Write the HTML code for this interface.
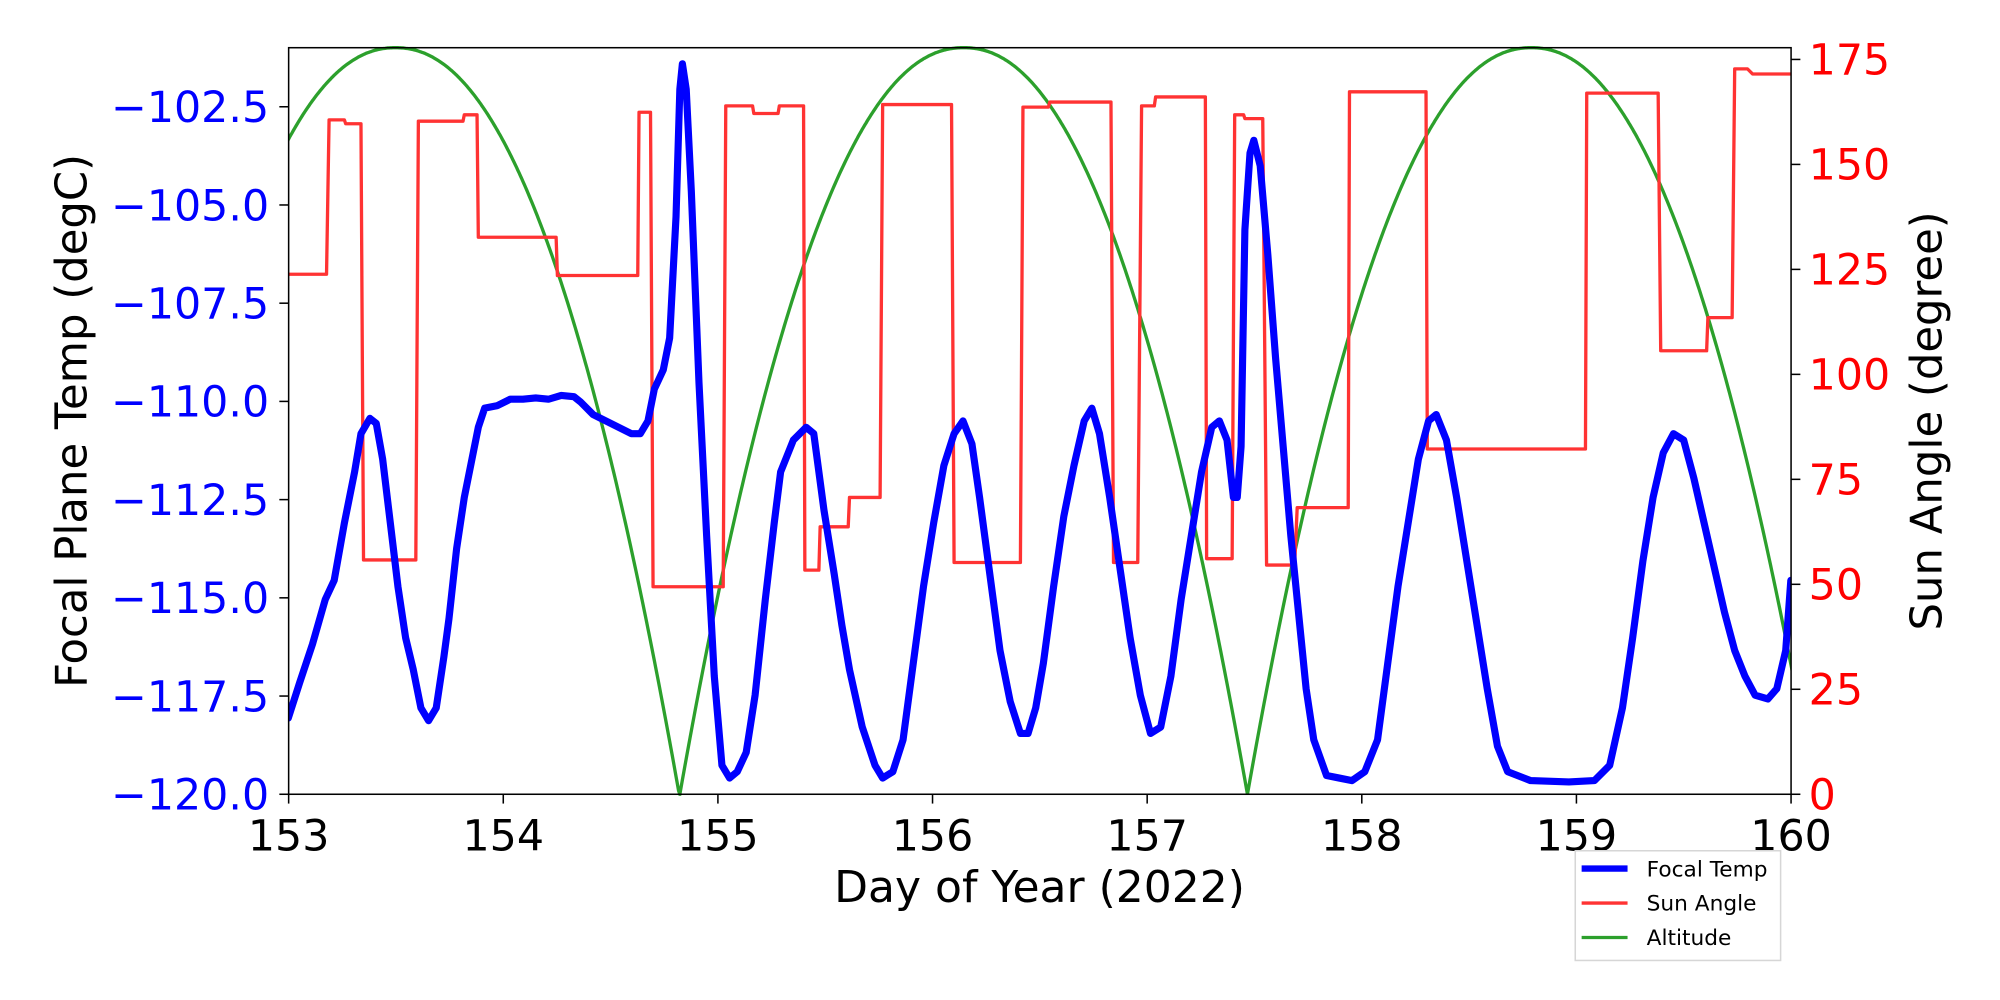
<!DOCTYPE html>
<html><head><meta charset="utf-8"><style>html,body{margin:0;padding:0;background:#fff}svg{display:block}text{font-family:"DejaVu Sans","Liberation Sans",sans-serif}</style></head>
<body>
<svg id="s" width="2000" height="1000" viewBox="0 0 1568 784" xmlns="http://www.w3.org/2000/svg">
<rect width="1568" height="784" fill="#fff"/>
<defs><clipPath id="c"><rect x="226.3" y="36" width="1177.9" height="588"/></clipPath></defs>
<g clip-path="url(#c)">
<path id="green" fill="none" stroke="#2ca02c" stroke-width="2.6"/>
<polyline fill="none" stroke="#ff3333" stroke-width="2.6" stroke-linejoin="round" points="226,215 256,215 258,94 270,94 271,97 283,97 285,439 326,439 328,95 363,95 364,90 374,90 375,186 436,186 437,216 500,216 501,88 510,88 512,460 567,460 569,83 590,83 591,89 610,89 611,83 630,83 631,447 642,447 643,413 665,413 666,390 690,390 692,82 746,82 748,441 800,441 802,84 822,84 823,80 871,80 873,441 892,441 895,83 905,83 906,76 945,76 946,438 966,438 968,90 975,90 976,93 990,93 993,443 1015,443 1017,398 1057,398 1058,72 1118,72 1119,352 1243,352 1244,73 1300,73 1302,275 1338,275 1339,249 1358,249 1360,54 1370,54 1374,58 1405,58"/>
<polyline fill="none" stroke="#0000ff" stroke-width="5.6" stroke-linejoin="round" stroke-linecap="round" points="226,563 235,535 245,505 255,470 262,455 270,410 278,370 283,340 290,328 295,332 300,360 306,410 312,460 318,500 324,525 330,555 336,565 342,555 348,515 352,485 358,430 364,390 370,360 375,335 380,320 390,318 400,313 410,313 420,312 430,313 440,310 450,311 455,315 465,325 475,330 485,335 495,340 502,340 508,330 513,305 520,290 525,265 530,170 533,70 535,50 538,70 542,150 548,300 554,420 560,530 566,600 572,610 578,605 585,590 592,545 600,470 607,410 612,370 622,345 632,335 638,340 646,400 654,450 660,490 666,525 676,570 686,600 692,610 700,605 708,580 716,520 724,460 732,410 740,365 748,340 755,330 762,348 768,390 776,450 784,510 792,550 800,575 806,575 812,555 818,520 826,460 834,405 842,365 850,330 856,320 862,340 870,390 878,445 886,500 894,545 902,575 910,570 918,530 926,470 934,420 942,370 950,335 956,330 962,345 967,390 970,390 973,350 976,180 980,120 983,110 988,130 994,200 1000,280 1006,350 1012,420 1018,480 1024,540 1030,580 1040,608 1050,610 1060,612 1070,605 1080,580 1088,520 1096,460 1104,410 1112,360 1120,330 1126,325 1134,345 1142,390 1150,440 1158,490 1166,540 1174,585 1182,605 1200,612 1230,613 1250,612 1262,600 1272,555 1280,500 1288,440 1296,390 1304,355 1312,340 1320,345 1328,375 1336,410 1344,445 1352,480 1360,510 1368,530 1376,545 1386,548 1393,540 1400,510 1404,455"/>
</g>
<rect x="226.3" y="37.4" width="1177.9" height="585.3" fill="none" stroke="#000" stroke-width="1.2"/>
<g id="ticks" stroke="#000" stroke-width="1.2"></g>
<g id="labels"></g>
<text x="815" y="707" font-size="34.5" text-anchor="middle">Day of Year (2022)</text>
<text transform="translate(68,330) rotate(-90)" font-size="34" text-anchor="middle">Focal Plane Temp (degC)</text>
<text transform="translate(1522,330) rotate(-90)" font-size="34" text-anchor="middle">Sun Angle (degree)</text>
<rect x="1235" y="667" width="161" height="86" fill="#fff" stroke="#d6d6d6" stroke-width="1.2"/>
<line x1="1240" y1="681" x2="1276" y2="681" stroke="#0000ff" stroke-width="5"/>
<line x1="1240" y1="708" x2="1276" y2="708" stroke="#ff3333" stroke-width="2.6"/>
<line x1="1240" y1="735" x2="1276" y2="735" stroke="#2ca02c" stroke-width="2.6"/>
<text x="1291" y="687" font-size="17">Focal Temp</text>
<text x="1291" y="714" font-size="17">Sun Angle</text>
<text x="1291" y="741" font-size="17">Altitude</text>
</svg>
<script>
(function(){
var ns="http://www.w3.org/2000/svg";
var peaks=[-135,310,755.5,1200.5,1646],hw=222.5,d="";
for(var x=220;x<=1410;x+=1){var best=1e9;for(var i=0;i<peaks.length;i++){var dd=Math.abs(x-peaks[i]);if(dd<best)best=dd;}
var u=Math.min(best/hw,1);var y=37.4+585.3*Math.pow(u,2.15);d+=(d?"L":"M")+x+","+y.toFixed(1);}
document.getElementById("green").setAttribute("d",d);
var tg=document.getElementById("ticks"),lg=document.getElementById("labels");
function ln(a,b,c,e){var l=document.createElementNS(ns,"line");l.setAttribute("x1",a);l.setAttribute("y1",b);l.setAttribute("x2",c);l.setAttribute("y2",e);tg.appendChild(l);}
function tx(x,y,s,col,anc){var t=document.createElementNS(ns,"text");t.setAttribute("x",x);t.setAttribute("y",y);t.setAttribute("font-size","33.5");t.setAttribute("fill",col);t.setAttribute("text-anchor",anc);t.textContent=s;lg.appendChild(t);}
for(var k=0;k<=7;k++){var x=226.3+k*168.27;ln(x,622.7,x,630);tx(x,667,String(153+k),"#000","middle");}
var tl=["\u2212102.5","\u2212105.0","\u2212107.5","\u2212110.0","\u2212112.5","\u2212115.0","\u2212117.5","\u2212120.0"];
for(var k=0;k<8;k++){var y=83.7+k*77.0;ln(219,y,226.3,y);tx(211,y+12,tl[k],"#0000ff","end");}
for(var k=0;k<=7;k++){var y=622.7-k*82.3;ln(1404.2,y,1411.5,y);tx(1418,y+12,String(k*25),"#ff0000","start");}
})();
</script>
</body></html>
